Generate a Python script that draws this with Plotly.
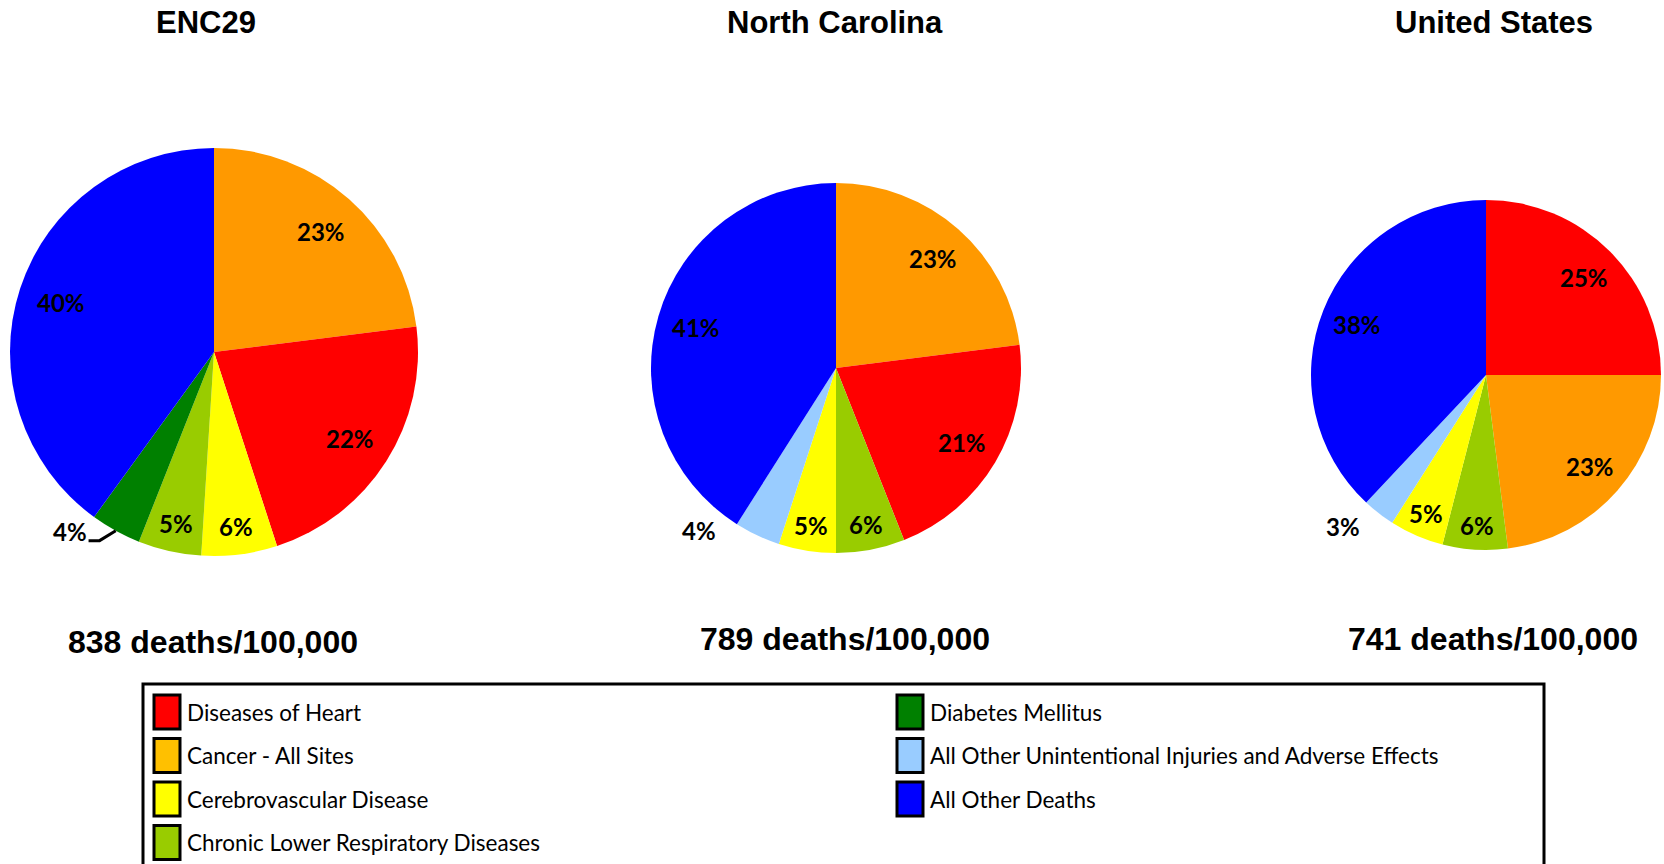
import math
import plotly.graph_objects as go

W, H = 1664, 864

# ---------------- data ----------------
regions = ["ENC29", "North Carolina", "United States"]
rate_labels = ["838 deaths/100,000", "789 deaths/100,000", "741 deaths/100,000"]

enc29_labels = ["Cancer - All Sites", "Diseases of Heart", "Cerebrovascular Disease",
                "Chronic Lower Respiratory Diseases", "Diabetes Mellitus", "All Other Deaths"]
enc29_values = [23, 22, 6, 5, 4, 40]

nc_labels = ["Cancer - All Sites", "Diseases of Heart", "Chronic Lower Respiratory Diseases",
             "Cerebrovascular Disease", "All Other Unintentional Injuries and Adverse Effects",
             "All Other Deaths"]
nc_values = [23, 21, 6, 5, 4, 41]

us_labels = ["Diseases of Heart", "Cancer - All Sites", "Chronic Lower Respiratory Diseases",
             "Cerebrovascular Disease", "All Other Unintentional Injuries and Adverse Effects",
             "All Other Deaths"]
us_values = [25, 23, 6, 5, 3, 38]

legend_labels = ["Diseases of Heart", "Diabetes Mellitus",
                 "Cancer - All Sites", "All Other Unintentional Injuries and Adverse Effects",
                 "Cerebrovascular Disease", "All Other Deaths",
                 "Chronic Lower Respiratory Diseases"]

# ---------------- styles ----------------
slice_colors = {
    "Diseases of Heart": "#FF0000",
    "Cancer - All Sites": "#FF9900",
    "Cerebrovascular Disease": "#FFFF00",
    "Chronic Lower Respiratory Diseases": "#99CC00",
    "Diabetes Mellitus": "#008000",
    "All Other Unintentional Injuries and Adverse Effects": "#99CCFF",
    "All Other Deaths": "#0000FF",
}
legend_colors = dict(slice_colors)
legend_colors["Cancer - All Sites"] = "#FFC000"


def px_x(v):
    return v / W


def px_y(v):
    return 1 - v / H


# pie centre (px) and radius (px)
pie_geom = [(214, 352, 204), (836, 368, 185), (1486, 375, 175)]
# outside-label placement (angle shift in degrees, radius factor) and leader line flag
outside_place = [(10, 1.13), (15, 1.15), (5.5, 1.19)]
leader = [True, False, False]
title_x = [206, 835, 1494]
rate_x = [213, 845, 1493]
rate_y = [642, 639, 639]

pct_font = dict(family="Lato", size=24, color="black", weight=700)
head_font = dict(family="Liberation Sans", size=31, color="black", weight=700)
rate_font = dict(family="Liberation Sans", size=32, color="black", weight=700)

fig = go.Figure()
annotations = []
shapes = []
series = [(enc29_labels, enc29_values), (nc_labels, nc_values), (us_labels, us_values)]
for (labels, values), (cx, cy, r), (shift, rf), lead in zip(series, pie_geom, outside_place, leader):
    fig.add_trace(go.Pie(
        labels=labels,
        values=values,
        sort=False,
        direction="clockwise",
        rotation=0,
        marker=dict(colors=[slice_colors[l] for l in labels], line=dict(width=0)),
        textinfo="none",
        showlegend=False,
        hoverinfo="label+percent",
        domain=dict(x=[px_x(cx - r), px_x(cx + r)], y=[px_y(cy + r), px_y(cy - r)]),
    ))
    # percentage labels, placed from each slice's mid-angle
    total = float(sum(values))
    cum = 0.0
    for v in values:
        mid = (cum + v / 2.0) / total * 2 * math.pi
        cum += v
        txt = "%d%%" % v
        if v <= 4:
            ang = mid + math.radians(shift)
            lx = cx + rf * r * math.sin(ang)
            ly = cy - rf * r * math.cos(ang)
            if lead:
                ex = cx + 1.0 * r * math.sin(mid)
                ey = cy - 1.0 * r * math.cos(mid)
                path = "M %f,%f L %f,%f L %f,%f" % (
                    px_x(lx + 19), px_y(ly + 9), px_x(lx + 30), px_y(ly + 9), px_x(ex), px_y(ey))
                shapes.append(dict(type="path", xref="paper", yref="paper", path=path,
                                   line=dict(color="black", width=3)))
        else:
            k = 0.86 if v <= 6 else 0.79
            lx = cx + k * r * math.sin(mid)
            ly = cy - k * r * math.cos(mid)
        annotations.append(dict(text=txt, x=px_x(lx), y=px_y(ly), xref="paper", yref="paper",
                                xanchor="center", yanchor="middle", showarrow=False,
                                font=pct_font))

for name, x in zip(regions, title_x):
    annotations.append(dict(text=name, x=px_x(x), y=px_y(23), xref="paper", yref="paper",
                            xanchor="center", yanchor="middle", showarrow=False, font=head_font))
for txt, x, y in zip(rate_labels, rate_x, rate_y):
    annotations.append(dict(text=txt, x=px_x(x), y=px_y(y), xref="paper", yref="paper",
                            xanchor="center", yanchor="middle", showarrow=False, font=rate_font))

shapes.append(dict(type="rect", xref="paper", yref="paper",
                   x0=px_x(143), x1=px_x(1544), y0=px_y(900), y1=px_y(684),
                   line=dict(color="black", width=3), fillcolor="rgba(0,0,0,0)"))

# legend laid out in two columns (row-major order)
col_x = [154, 897]
row_y = [712, 755.5, 799, 842.5]
for i, lab in enumerate(legend_labels):
    col = i % 2
    row = i // 2
    x0 = col_x[col]
    yc = row_y[row]
    shapes.append(dict(type="rect", xref="paper", yref="paper",
                       x0=px_x(x0), x1=px_x(x0 + 26), y0=px_y(yc + 17), y1=px_y(yc - 17),
                       line=dict(color="black", width=3), fillcolor=legend_colors[lab]))
    annotations.append(dict(text=lab, x=px_x(x0 + 31), y=px_y(yc), xref="paper", yref="paper",
                            xanchor="left", yanchor="middle", showarrow=False,
                            font=dict(family="Lato", size=22.5, color="black")))

fig.update_layout(
    width=W, height=H,
    margin=dict(l=0, r=0, t=0, b=0),
    paper_bgcolor="white",
    plot_bgcolor="white",
    annotations=annotations,
    shapes=shapes,
)

fig.write_html("out.html",
               config={"displayModeBar": False},
               post_script="document.body.style.margin='0';document.body.style.overflow='hidden';")
